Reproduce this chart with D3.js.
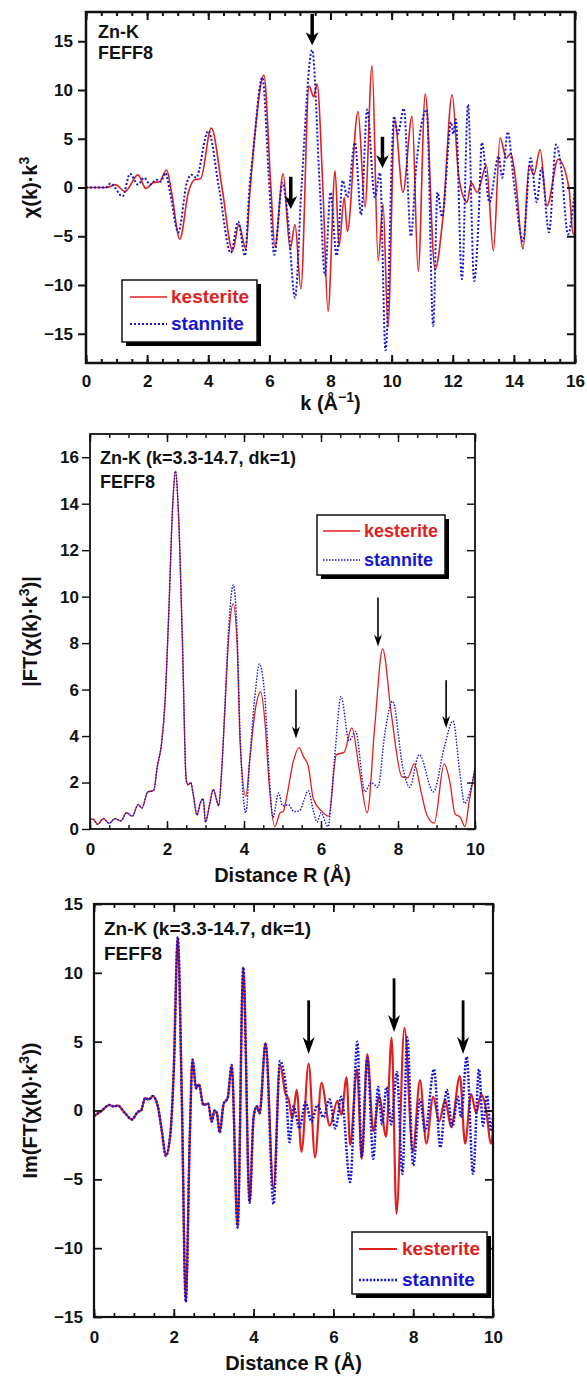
<!DOCTYPE html>
<meta charset="utf-8">
<style>
  body { margin: 0; background: #fff; }
  svg { display: block; }
  text { font-family: Arial, "Liberation Sans", Helvetica, sans-serif; font-weight: bold; fill: #111; }
</style>
<body>
<svg width="587" height="1378"></svg>
<script src="https://d3js.org/d3.v7.min.js"></script>
<script>
// ---- data ----
// panel 1: chi(k)*k^3 vs k
var chiKest = [[0,0],[0.7,0],[0.95,0.3],[1.28,-0.4],[1.7,1.3],[1.96,-0.1],[2.2,0.5],[2.4,0.6],[2.64,1.8],[2.8,-0.5],
  [3.07,-5.3],[3.35,-0.5],[3.55,0.8],[3.75,0.9],[4.1,6.1],[4.45,0],[4.8,-6.5],[5.0,-3.8],[5.23,-6.3],[5.35,-1],
  [5.5,4.6],[5.82,11.5],[6.05,0],[6.18,-6.1],[6.45,1.4],[6.68,-6.3],[6.84,-3.8],[7.03,-10.4],[7.3,10.4],[7.45,9.3],
  [7.56,10.6],[7.75,0],[7.92,-12.7],[8.15,1.7],[8.28,-6],[8.45,-1],[8.55,-4.5],[8.9,7.8],[9.13,-2],[9.36,12.5],
  [9.56,-7.5],[9.72,-1.7],[9.88,-14.3],[10.1,6.9],[10.37,-0.5],[10.67,7.3],[10.87,-8.6],[11.1,9.6],[11.42,-8.4],
  [11.68,-3],[11.98,9.5],[12.2,1],[12.47,-1.5],[12.6,0.5],[12.8,-0.5],[13.1,2.3],[13.33,-6.5],[13.55,5.1],[13.75,3],
  [13.9,3.5],[14.05,1],[14.3,-6.3],[14.5,2.3],[14.65,1.3],[14.86,3.9],[15.08,-1.9],[15.45,2.9],[15.8,0],[15.94,-4.8],[16,-4.5]];
var chiStan = [[0,0],[0.65,0],[0.8,0.4],[1.2,-0.9],[1.44,1.4],[1.7,0.3],[1.9,1.0],[2.1,0.3],[2.3,0.8],[2.45,0.6],
  [2.6,1.5],[2.75,-0.5],[3.02,-4.6],[3.3,0.5],[3.45,1.3],[3.6,1.0],[4.0,5.8],[4.35,0],[4.74,-6.7],[4.98,-3.5],
  [5.2,-7],[5.35,0],[5.45,3],[5.77,11.3],[6.0,0],[6.16,-6.9],[6.43,0.5],[6.6,-3],[6.84,-11.3],[7.05,0],[7.4,14.1],
  [7.65,0],[7.82,-9],[8.0,-0.5],[8.2,-7],[8.4,0.7],[8.55,-1],[8.8,4.6],[9.0,-2.8],[9.2,8],[9.45,-1],[9.62,1.5],
  [9.8,-16.7],[10.08,7.3],[10.2,5.5],[10.4,8.1],[10.63,-5],[10.8,2],[11.15,8],[11.36,-14.2],[11.5,-0.5],[11.65,-3],
  [11.95,6.7],[12.02,5.5],[12.1,7],[12.3,-9.4],[12.5,8.5],[12.7,-9.6],[12.85,-3],[12.95,4.6],[13.2,-1.5],[13.5,3.2],
  [13.62,1],[13.8,5.7],[14.0,0.5],[14.3,-5.5],[14.55,3],[14.75,-1.5],[14.9,2],[15.15,-4.6],[15.38,4.4],[15.55,2],
  [15.77,-4.8],[16,0]];

// panel 2: |FT| vs R
var ftKest = [[0,0.45],[0.1,0.4],[0.2,0.2],[0.35,0.45],[0.5,0.25],[0.65,0.45],[0.8,0.35],[0.95,0.7],[1.1,0.55],
  [1.25,1.05],[1.35,0.9],[1.5,1.6],[1.65,1.65],[1.75,2.7],[1.86,3.7],[1.95,5.5],[2.05,9.5],[2.15,14],[2.22,15.4],
  [2.3,13.5],[2.4,8.1],[2.5,2.1],[2.55,1.9],[2.62,2.0],[2.68,1.5],[2.78,0.6],[2.86,1.1],[2.94,1.3],[3.0,0.3],
  [3.1,1.0],[3.2,1.7],[3.28,1.3],[3.34,1.0],[3.42,2.5],[3.5,5],[3.6,8.2],[3.72,9.7],[3.82,8],[3.9,3.7],[4.05,1.4],
  [4.15,3],[4.3,5.2],[4.43,5.9],[4.55,4.5],[4.65,2],[4.8,0.1],[4.94,0.7],[5.02,0.75],[5.1,1.3],[5.28,2.9],[5.43,3.5],
  [5.55,3.1],[5.67,2.7],[5.8,1.3],[6.0,0.8],[6.2,0.55],[6.4,3.2],[6.6,3.3],[6.8,4.35],[7.0,2.5],[7.2,0.7],[7.4,4.5],
  [7.6,7.75],[7.83,4.9],[8.1,2.25],[8.25,2.2],[8.42,2.8],[8.6,1.6],[8.75,0.6],[8.94,0.25],[9.2,2.8],[9.35,2.0],
  [9.48,0.65],[9.62,0.5],[9.74,0.1],[9.85,1.2],[10,2.6]];
var ftStan = [[0,0.45],[0.1,0.4],[0.2,0.2],[0.35,0.45],[0.5,0.25],[0.65,0.45],[0.8,0.35],[0.95,0.7],[1.1,0.55],
  [1.25,1.05],[1.35,0.9],[1.5,1.6],[1.65,1.65],[1.75,2.7],[1.86,3.7],[1.95,5.5],[2.05,9.5],[2.15,14],[2.22,15.4],
  [2.3,13.5],[2.4,8.1],[2.5,2.1],[2.55,1.9],[2.62,2.0],[2.68,1.5],[2.78,0.6],[2.86,1.1],[2.94,1.3],[3.0,0.3],
  [3.1,1.0],[3.2,1.7],[3.28,1.3],[3.34,1.0],[3.42,2.5],[3.5,5.2],[3.6,8.6],[3.72,10.5],[3.82,8.5],[3.9,4],[4.05,0.7],
  [4.15,3],[4.3,6],[4.4,7.1],[4.55,5.5],[4.65,2.5],[4.75,0.5],[4.9,1.55],[5.0,1.0],[5.15,1.05],[5.3,0.75],[5.45,0.8],
  [5.55,1.2],[5.67,1.65],[5.8,0.8],[5.9,0.3],[6.0,0.7],[6.18,0.1],[6.35,3],[6.52,5.7],[6.73,3.8],[6.9,4.2],[7.14,1.6],
  [7.3,2.0],[7.48,1.8],[7.65,4],[7.86,5.5],[8.13,2.6],[8.3,1.8],[8.55,3.2],[8.92,1.6],[9.2,3.5],[9.43,4.65],[9.6,2.5],
  [9.73,1.1],[9.85,1.5],[10,2.6]];

// panel 3: Im(FT) vs R
var imKest = [[0,-0.4],[0.2,0],[0.38,0.4],[0.5,0.3],[0.6,0.35],[0.78,-0.2],[0.95,-0.65],[1.1,-0.1],[1.18,0],[1.28,0.9],
  [1.38,0.8],[1.47,1.05],[1.6,0.3],[1.7,-1.5],[1.8,-3.3],[1.92,-1.5],[2.0,3],[2.1,12.6],[2.2,1],[2.3,-13.9],[2.4,-2],
  [2.47,3.7],[2.56,1.6],[2.63,1.9],[2.74,0.4],[2.86,0.5],[2.95,-0.8],[3.02,0],[3.08,-0.2],[3.15,-1.6],[3.25,0.5],
  [3.35,0.9],[3.45,3.3],[3.6,-8.5],[3.74,10.4],[3.9,-6.7],[4.0,-0.5],[4.08,0.3],[4.15,-0.2],[4.3,4.9],[4.5,-5.7],
  [4.66,3.3],[4.8,1.2],[4.88,0.8],[4.97,-0.6],[5.08,1.5],[5.2,-3.0],[5.38,3.4],[5.54,-3.4],[5.7,2.0],[5.91,-1.1],
  [6.1,0.7],[6.2,-0.3],[6.33,2.4],[6.42,-2.5],[6.59,3.0],[6.71,-3.5],[6.85,4.1],[7.0,-1.5],[7.15,1.0],[7.32,-1.9],
  [7.46,5.3],[7.58,-7.5],[7.78,6.0],[7.99,-3.0],[8.17,2.2],[8.33,-2.4],[8.5,1.0],[8.65,-0.8],[8.8,0.8],[8.95,-1.2],
  [9.17,2.5],[9.3,-2.4],[9.45,1.2],[9.58,-0.2],[9.7,1.2],[9.82,0.2],[9.95,-2.4],[10,-1.5]];
var imStan = [[0,-0.4],[0.2,0],[0.38,0.4],[0.5,0.3],[0.6,0.35],[0.78,-0.2],[0.95,-0.65],[1.1,-0.1],[1.18,0],[1.28,0.9],
  [1.38,0.8],[1.47,1.05],[1.6,0.3],[1.7,-1.5],[1.8,-3.3],[1.92,-1.5],[2.0,3],[2.1,12.6],[2.2,1],[2.3,-13.9],[2.4,-2],
  [2.47,3.7],[2.56,1.6],[2.63,1.9],[2.74,0.4],[2.86,0.5],[2.95,-0.8],[3.02,0],[3.08,-0.2],[3.15,-1.6],[3.25,0.5],
  [3.35,0.9],[3.45,3.3],[3.6,-8.5],[3.74,10.4],[3.9,-6.7],[4.0,-0.5],[4.08,0.3],[4.15,-0.2],[4.3,4.9],[4.5,-6.8],
  [4.66,3.6],[4.8,2],[4.9,-2.3],[5.0,0.3],[5.15,-1.3],[5.3,0.6],[5.45,-0.8],[5.6,0.4],[5.75,-0.5],[5.9,0.8],[6.05,-1.3],
  [6.2,1.0],[6.42,-5.2],[6.6,5.0],[6.71,-3.4],[6.85,3.8],[7.0,-3.5],[7.12,1.7],[7.22,-1],[7.33,1.7],[7.45,-1],[7.59,2.8],
  [7.73,-4.6],[7.85,5.3],[8.0,-4.0],[8.17,0.8],[8.3,-1.5],[8.52,3.0],[8.68,-2.7],[8.84,1.5],[8.98,-1.2],[9.12,1.0],
  [9.2,-0.5],[9.34,3.9],[9.5,-4.6],[9.65,3.0],[9.75,-1.1],[9.85,1.1],[9.95,-1.5],[10,-0.5]];

// ticks
var kTicks = [0,2,4,6,8,10,12,14,16];
var chiTicks = [-15,-10,-5,0,5,10,15];
var rTicks = [0,2,4,6,8,10];
var ftTicks = [0,2,4,6,8,10,12,14,16];
var imTicks = [-15,-10,-5,0,5,10,15];

// arrows: [x, yStart, yEnd] in data units
var chiArrows = [[7.4,17.8,14.6],[6.7,1.1,-2.2],[9.7,5.2,2.0]];
var ftArrows = [[5.35,6.0,3.9],[7.48,9.96,7.85],[9.25,6.4,4.35]];
var imArrows = [[5.38,8.0,4.1],[7.52,9.6,5.7],[9.25,8.0,4.1]];

var names = ["kesterite", "stannite"];
var red = "#e01f1f", blue = "#1515d6";

var svg = d3.select("svg");

function panel(o) {
  var x = d3.scaleLinear().domain(o.xd).range([o.l, o.r]);
  var y = d3.scaleLinear().domain(o.yd).range([o.b, o.t]);
  var g = svg.append("g");
  var minor = d3.range(o.xd[0], o.xd[1] + 1e-9, 0.5);

  // curves (dotted stannite on top, so the solid red shows through the gaps)
  var line = d3.line().x(function(d) { return x(d[0]); }).y(function(d) { return y(d[1]); })
    .curve(d3.curveMonotoneX);
  g.append("path").datum(o.s1).attr("d", line).attr("fill", "none")
    .attr("stroke", red).attr("stroke-width", o.w1);
  g.append("path").datum(o.s2).attr("d", line).attr("fill", "none")
    .attr("stroke", blue).attr("stroke-width", o.w2).attr("stroke-dasharray", o.dash);

  // axes
  function ax(a, tr, vals, size, pad, fmt) {
    var gg = g.append("g").attr("transform", tr)
      .call(a.tickValues(vals).tickSize(size).tickPadding(pad).tickFormat(fmt));
    gg.select(".domain").remove();
    gg.selectAll("line").attr("stroke", "#111").attr("stroke-width", o.aw * 0.8);
    gg.selectAll("text").style("font-size", "17px").style("font-family", "Arial, 'Liberation Sans', sans-serif")
      .style("font-weight", "bold").attr("fill", "#111");
    return gg;
  }
  var none = function() { return ""; };
  ax(d3.axisBottom(x), "translate(0," + o.b + ")", minor, -4, 0, none);
  ax(d3.axisBottom(x), "translate(0," + o.b + ")", o.xt, -8, o.xpad, d3.format("d"));
  ax(d3.axisTop(x), "translate(0," + o.t + ")", minor, -4, 0, none);
  ax(d3.axisTop(x), "translate(0," + o.t + ")", o.xt, -8, 0, none);
  ax(d3.axisLeft(y), "translate(" + o.l + ",0)", o.yt, o.ltick, o.ypad, d3.format("d"));
  ax(d3.axisRight(y), "translate(" + o.r + ",0)", o.yt, -8, 0, none);

  g.append("rect").attr("x", o.l).attr("y", o.t).attr("width", o.r - o.l).attr("height", o.b - o.t)
    .attr("fill", "none").attr("stroke", "#111").attr("stroke-width", o.aw);

  // arrows
  o.arrows.forEach(function(a) {
    var ax0 = x(a[0]), y0 = y(a[1]), y1 = y(a[2]);
    g.append("line").attr("x1", ax0).attr("x2", ax0).attr("y1", y0).attr("y2", y1 - o.ah * 0.6)
      .attr("stroke", "#000").attr("stroke-width", o.asw);
    g.append("path").attr("fill", "#000")
      .attr("d", "M" + ax0 + "," + y1 + "L" + (ax0 - o.aww / 2) + "," + (y1 - o.ah) +
        "L" + ax0 + "," + (y1 - o.ah * 0.7) + "L" + (ax0 + o.aww / 2) + "," + (y1 - o.ah) + "Z");
  });

  // notes
  o.notes.forEach(function(n, i) {
    g.append("text").attr("x", o.nx).attr("y", o.ny[i]).style("font-size", o.nfs + "px").text(n);
  });

  // legend
  var L = o.leg;
  g.append("rect").attr("x", L.x + 4).attr("y", L.y + 4).attr("width", L.w).attr("height", L.h).attr("fill", "#000");
  g.append("rect").attr("x", L.x).attr("y", L.y).attr("width", L.w).attr("height", L.h)
    .attr("fill", "#fff").attr("stroke", "#111").attr("stroke-width", 1.5);
  [red, blue].forEach(function(c, i) {
    var yy = L.y + L.rows[i];
    g.append("line").attr("x1", L.x + L.lx0).attr("x2", L.x + L.lx1).attr("y1", yy - 6).attr("y2", yy - 6)
      .attr("stroke", c).attr("stroke-width", i ? o.w2 : o.w1).attr("stroke-dasharray", i ? o.dash : null);
    g.append("text").attr("x", L.x + L.tx).attr("y", yy).style("font-size", L.fs + "px")
      .style("fill", c).text(names[i]);
  });

  // titles
  var xt = g.append("text").attr("x", (o.l + o.r) / 2).attr("y", o.xty).attr("text-anchor", "middle")
    .style("font-size", "20px");
  o.xtitle(xt);
  var yt = g.append("text").attr("transform", "translate(" + o.ytx + "," + ((o.t + o.b) / 2) + ") rotate(-90)")
    .attr("text-anchor", "middle").style("font-size", "20px");
  o.ytitle(yt);
}

function sup(t, a, s, b) {
  t.append("tspan").text(a);
  t.append("tspan").attr("dy", -8).style("font-size", "14px").text(s);
  t.append("tspan").attr("dy", 8).text(b);
}

panel({
  xd: [0, 16], yd: [-18, 18], l: 86, r: 575, t: 12, b: 363,
  s1: chiKest, s2: chiStan, w1: 1.6, w2: 2, dash: "2,2",
  xt: kTicks, yt: chiTicks, xpad: 12, ltick: 8, ypad: 5, aw: 2.5,
  arrows: chiArrows, ah: 13, aww: 13, asw: 3.5,
  notes: ["Zn-K", "FEFF8"], nx: 98, ny: [38, 59], nfs: 18,
  leg: { x: 122, y: 280, w: 135, h: 62, rows: [23, 50], lx0: 8, lx1: 45, tx: 49, fs: 19 },
  xty: 410, ytx: 37,
  xtitle: function(t) { sup(t, "k (Å", "\u22121", ")"); },
  ytitle: function(t) { sup(t, "\u03c7(k)\u00b7k", "3", ""); }
});

panel({
  xd: [0, 10], yd: [0, 17], l: 90, r: 475, t: 434, b: 829,
  s1: ftKest, s2: ftStan, w1: 1.3, w2: 1.4, dash: "1.5,1.5",
  xt: rTicks, yt: ftTicks, xpad: 14, ltick: 8, ypad: 3, aw: 1.8,
  arrows: ftArrows, ah: 12, aww: 8, asw: 1.6,
  notes: ["Zn-K (k=3.3-14.7, dk=1)", "FEFF8"], nx: 100, ny: [464, 488], nfs: 18,
  leg: { x: 317, y: 515, w: 128, h: 60, rows: [22, 51], lx0: 6, lx1: 43, tx: 47, fs: 18 },
  xty: 882, ytx: 37,
  xtitle: function(t) { t.text("Distance R (Å)"); },
  ytitle: function(t) { sup(t, "|FT(\u03c7(k)\u00b7k", "3", ")|"); }
});

panel({
  xd: [0, 10], yd: [-15, 15], l: 94, r: 493, t: 904, b: 1317,
  s1: imKest, s2: imStan, w1: 2.2, w2: 2.5, dash: "2,1.6",
  xt: rTicks, yt: imTicks, xpad: 14, ltick: -8, ypad: 11, aw: 2.2,
  arrows: imArrows, ah: 17, aww: 12, asw: 2.8,
  notes: ["Zn-K (k=3.3-14.7, dk=1)", "FEFF8"], nx: 104, ny: [935, 960], nfs: 19,
  leg: { x: 352, y: 1232, w: 135, h: 62, rows: [23, 54], lx0: 7, lx1: 45, tx: 50, fs: 19 },
  xty: 1370, ytx: 37,
  xtitle: function(t) { t.text("Distance R (Å)"); },
  ytitle: function(t) { sup(t, "Im(FT(\u03c7(k)\u00b7k", "3", "))"); }
});
</script>
